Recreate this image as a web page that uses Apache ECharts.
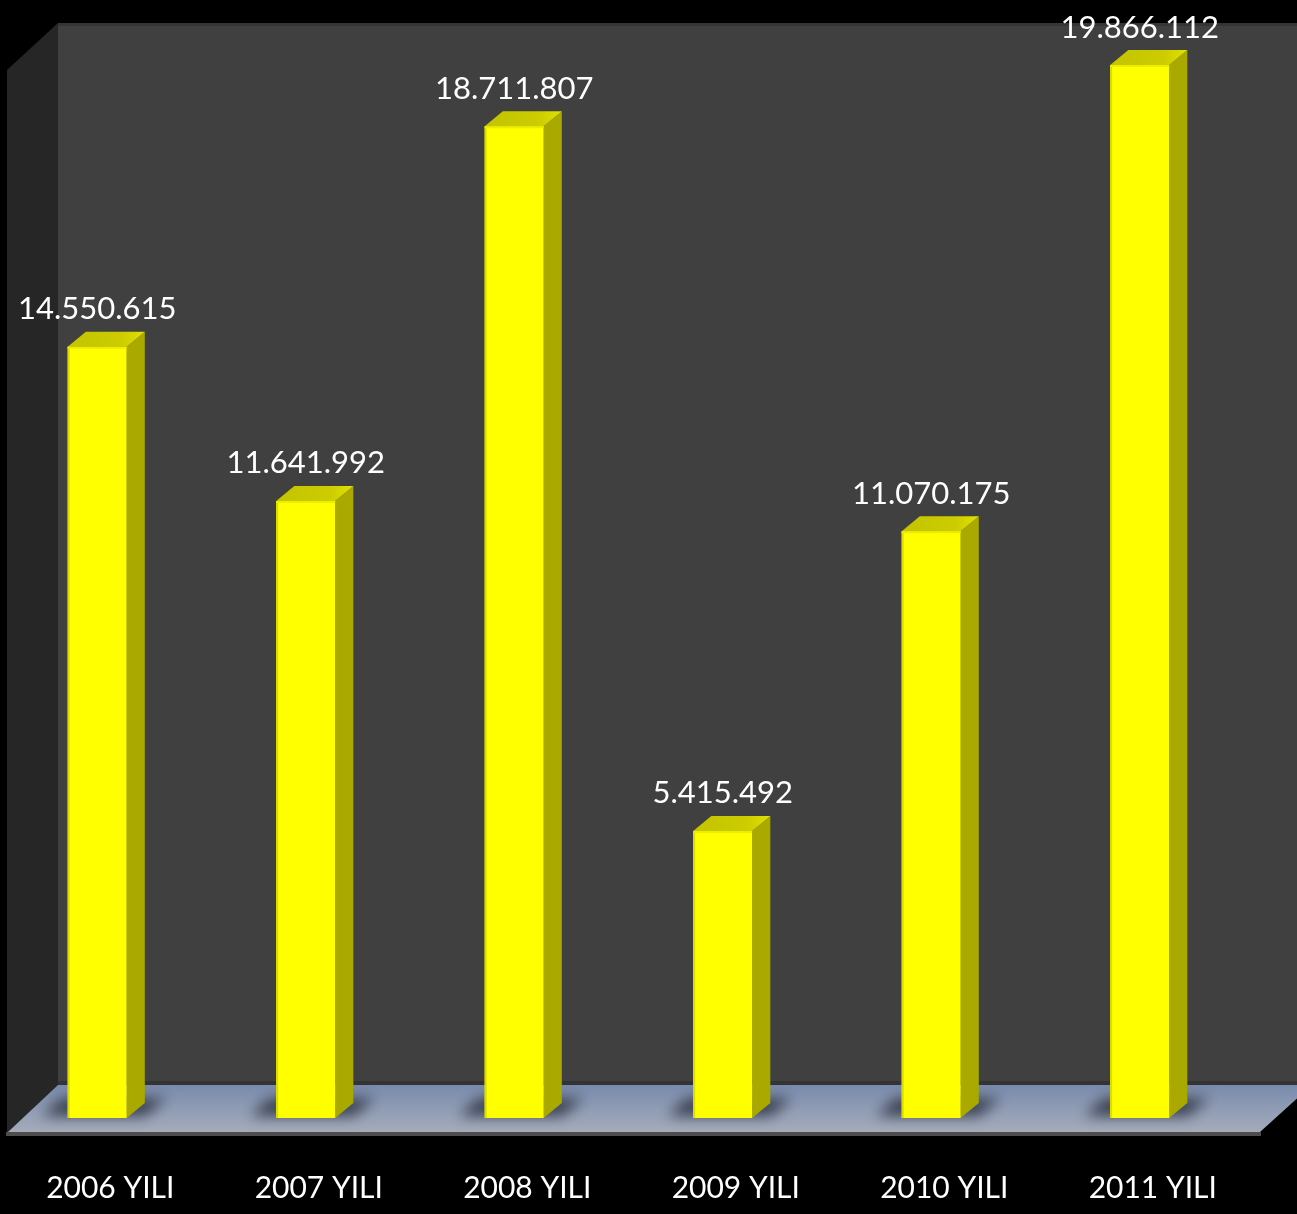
<!DOCTYPE html>
<html>
<head>
<meta charset="utf-8">
<script src="https://cdn.jsdelivr.net/npm/echarts@6/dist/echarts.min.js"></script>
<style>
html,body{margin:0;padding:0;background:#000;}
#c{width:1297px;height:1214px;}
</style>
</head>
<body>
<div id="c"></div>
<script>
const categories = ['2006 YILI', '2007 YILI', '2008 YILI', '2009 YILI', '2010 YILI', '2011 YILI'];
const values = [14550615, 11641992, 18711807, 5415492, 11070175, 19866112];

function fmt(n) {
  return String(n).replace(/\B(?=(\d{3})+(?!\d))/g, '.');
}

const chart = echarts.init(document.getElementById('c'));
const OFF = 4000;

const option = {
  backgroundColor: '#000000',
  animation: false,
  grid: { left: 2, right: 44, top: 5, bottom: 96 },
  xAxis: {
    type: 'category',
    data: categories,
    axisLine: { show: false },
    axisTick: { show: false },
    axisLabel: {
      color: '#ffffff',
      fontFamily: 'Lato',
      fontSize: 30,
      margin: 55,
      verticalAlign: 'top',
      padding: [0, 0, 0, 8]
    }
  },
  yAxis: {
    type: 'value',
    min: 0,
    max: 21000000,
    show: false,
    splitLine: { show: false }
  },
  graphic: [
    { type: 'rect', z: -10, shape: { x: 58, y: 23, width: 1300, height: 1070 }, style: { fill: '#404040' } },
    { type: 'rect', z: -9, shape: { x: 58, y: 23, width: 1300, height: 3 }, style: { fill: '#353535' } },
    { type: 'rect', z: -9, shape: { x: 58, y: 1081, width: 1300, height: 4 }, style: { fill: '#333333' } },
    { type: 'polygon', z: -9, shape: { points: [[7, 70], [58, 23], [58, 1090], [7, 1135]] }, style: { fill: '#262626' } },
    { type: 'polygon', z: -8, shape: { points: [[58, 1085], [1312, 1085], [1260, 1132], [8, 1132]] },
      style: { fill: new echarts.graphic.LinearGradient(0, 0, 0, 1, [
        { offset: 0, color: '#788aac' },
        { offset: 0.5, color: '#8f9cb4' },
        { offset: 1, color: '#a5abb9' }
      ]) } },
    { type: 'rect', z: -8, shape: { x: 6, y: 1132, width: 1255, height: 4 }, style: { fill: '#4d4d4d' } }
  ],
  series: [{
    type: 'custom',
    data: values.map((v, i) => [i, v]),
    encode: { x: 0, y: 1 },
    renderItem: function (params, api) {
      const idx = api.value(0);
      const v = api.value(1);
      const top = api.coord([idx, v]);
      const base = api.coord([idx, 0]);
      const bw = api.size([1, 0])[0];
      const xc = top[0];
      const xl = xc - 0.185 * bw;
      const fw = 0.283 * bw;
      const xr = xl + fw;
      const sd = 0.087 * bw;
      const dy = 15;
      const ty = top[1];
      const by = base[1];
      return {
        type: 'group',
        children: [
          {
            type: 'polygon',
            shape: { points: [[xl - 26 - OFF, by - 2], [xr + sd - OFF, by - 2], [xr + sd + 22 - OFF, by - 20], [xl - 6 - OFF, by - 20]] },
            style: { fill: '#000', shadowBlur: 14, shadowOffsetX: OFF, shadowColor: 'rgba(40,45,60,0.85)' }
          },
          {
            type: 'polygon',
            shape: { points: [[xr, ty], [xr + sd, ty - dy], [xr + sd, by - dy], [xr, by]] },
            style: { fill: '#a9a900' }
          },
          {
            type: 'polygon',
            shape: { points: [[xl, ty], [xl + sd, ty - dy], [xr + sd, ty - dy], [xr, ty]] },
            style: { fill: new echarts.graphic.LinearGradient(0, 0, 1, 0, [
              { offset: 0, color: '#c4c400' },
              { offset: 0.7, color: '#cccc00' },
              { offset: 1, color: '#e2e200' }
            ]) }
          },
          {
            type: 'rect',
            shape: { x: xl, y: ty, width: fw, height: by - ty },
            style: { fill: '#ffff00' }
          },
          {
            type: 'rect',
            shape: { x: xl, y: ty, width: 2, height: by - ty },
            style: { fill: '#dcdc00' }
          },
          {
            type: 'rect',
            shape: { x: xl, y: ty, width: fw, height: 2 },
            style: { fill: '#eded00' }
          },
          {
            type: 'text',
            style: {
              text: fmt(v),
              x: xl + fw / 2,
              y: ty - 22,
              fill: '#ffffff',
              font: '31px Lato',
              textAlign: 'center',
              textVerticalAlign: 'bottom'
            }
          }
        ]
      };
    }
  }]
};

chart.setOption(option);
</script>
</body>
</html>
